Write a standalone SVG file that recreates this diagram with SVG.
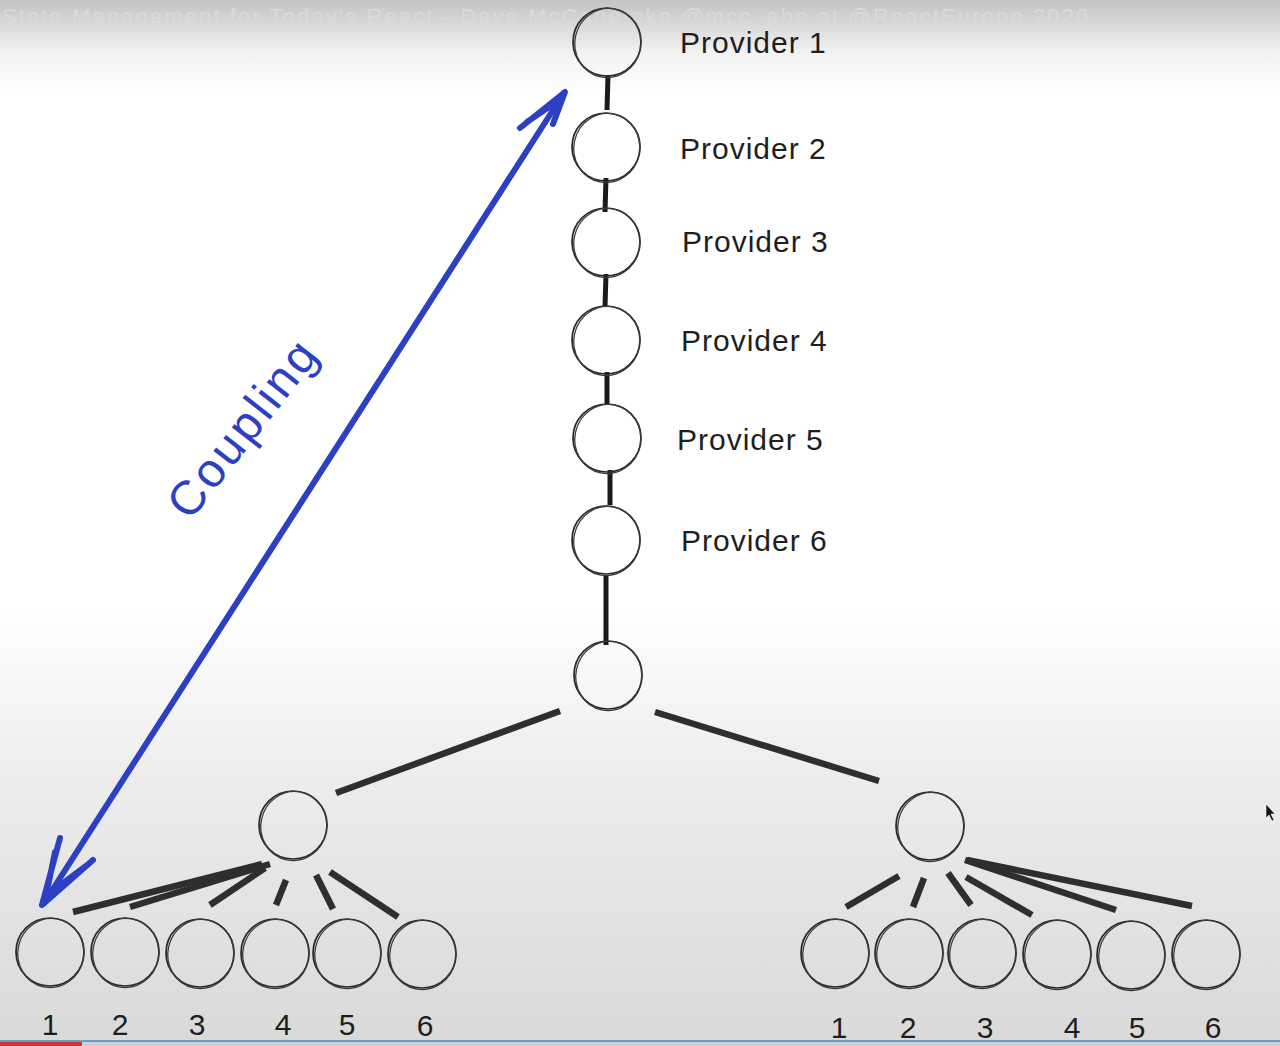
<svg xmlns="http://www.w3.org/2000/svg" xmlns:xlink="http://www.w3.org/1999/xlink" width="1280" height="1046" viewBox="0 0 1280 1046">
<defs>
<linearGradient id="bg" x1="0" y1="0" x2="0" y2="1">
<stop offset="0" stop-color="#c3c3c3"/>
<stop offset="0.05" stop-color="#f2f2f2"/>
<stop offset="0.09" stop-color="#ffffff"/>
<stop offset="0.58" stop-color="#ffffff"/>
<stop offset="0.75" stop-color="#ececec"/>
<stop offset="1" stop-color="#d9d9d9"/>
</linearGradient>
<g id="ring">
<circle r="34" fill="none" stroke="#2a2a2a" stroke-width="1.7"/>
<ellipse cx="1" cy="0.8" rx="33" ry="34.6" transform="rotate(12)" fill="none" stroke="#3a3a3a" stroke-width="1.3"/>
</g>
</defs>
<style>
.lbl{font-family:"Liberation Sans",Arial,sans-serif;font-size:30px;fill:#1e1e1e;letter-spacing:1px}
.num{font-family:"Liberation Sans",Arial,sans-serif;font-size:30px;fill:#1e1e1e;text-anchor:middle}
.wm{font-family:"Liberation Sans",Arial,sans-serif;font-size:22px;fill:#dadada}
.chain{stroke:#1a1a1a;stroke-width:5;fill:none}
.br{stroke:#2e2e2e;stroke-width:6.5;fill:none}
.blue{stroke:#2c40c4;stroke-width:6;fill:none;stroke-linecap:round;stroke-linejoin:round}
.cp{font-family:"Liberation Sans",Arial,sans-serif;font-size:48px;fill:#2c40c4;letter-spacing:3px}
</style>
<rect width="1280" height="1046" fill="url(#bg)"/>
<text class="wm" x="2" y="24" textLength="1086">State Management for Today's React - Dave McCabe aka @mcc_abe at @ReactEurope 2020</text>

<g id="connectors">
<line class="chain" x1="608" y1="75" x2="607" y2="110"/>
<line class="chain" x1="606" y1="178" x2="605" y2="212"/>
<line class="chain" x1="606" y1="274" x2="605" y2="307"/>
<line class="chain" x1="607" y1="372" x2="607" y2="405"/>
<line class="chain" x1="610" y1="470" x2="610" y2="505"/>
<line class="chain" x1="606" y1="575" x2="606" y2="645"/>
<line class="br" x1="560" y1="711" x2="336" y2="793"/>
<line class="br" x1="655" y1="712" x2="879" y2="781"/>
<line class="br" x1="73" y1="912" x2="262" y2="864"/>
<line class="br" x1="130" y1="907" x2="270" y2="864"/>
<line class="br" x1="210" y1="905" x2="265" y2="868"/>
<line class="br" x1="276" y1="905" x2="286" y2="880"/>
<line class="br" x1="316" y1="875" x2="333" y2="909"/>
<line class="br" x1="330" y1="872" x2="398" y2="917"/>
<line class="br" x1="846" y1="907" x2="899" y2="876"/>
<line class="br" x1="913" y1="907" x2="924" y2="878"/>
<line class="br" x1="948" y1="873" x2="971" y2="905"/>
<line class="br" x1="966" y1="877" x2="1032" y2="915"/>
<line class="br" x1="965" y1="860" x2="1116" y2="910"/>
<line class="br" x1="967" y1="860" x2="1192" y2="906"/>
</g>

<g id="coupling">
<line class="blue" x1="44" y1="903" x2="564" y2="93"/>
<path class="blue" d="M520 128 L565 92 L553 124 M527 122 L562 98"/>
<path class="blue" d="M60 838 L42 905 L93 860 M55 852 L46 896 L86 866"/>
<text class="cp" transform="translate(190 522) rotate(-52)">Coupling</text>
</g>

<g id="p1"><use xlink:href="#ring" x="607" y="42"/><text class="lbl" x="680" y="53">Provider 1</text></g>
<g id="p2"><use xlink:href="#ring" x="606" y="147"/><text class="lbl" x="680" y="159">Provider 2</text></g>
<g id="p3"><use xlink:href="#ring" x="606" y="242"/><text class="lbl" x="682" y="252">Provider 3</text></g>
<g id="p4"><use xlink:href="#ring" x="606" y="340"/><text class="lbl" x="681" y="351">Provider 4</text></g>
<g id="p5"><use xlink:href="#ring" x="607" y="438"/><text class="lbl" x="677" y="450">Provider 5</text></g>
<g id="p6"><use xlink:href="#ring" x="606" y="540"/><text class="lbl" x="681" y="551">Provider 6</text></g>
<g id="root"><use xlink:href="#ring" x="608" y="675"/></g>
<g id="leftMid"><use xlink:href="#ring" x="293" y="825"/></g>
<g id="rightMid"><use xlink:href="#ring" x="930" y="826"/></g>

<g id="L1"><use xlink:href="#ring" x="50" y="952"/><text class="num" x="50" y="1035">1</text></g>
<g id="L2"><use xlink:href="#ring" x="125" y="952"/><text class="num" x="120" y="1035">2</text></g>
<g id="L3"><use xlink:href="#ring" x="200" y="953"/><text class="num" x="197" y="1035">3</text></g>
<g id="L4"><use xlink:href="#ring" x="275" y="953"/><text class="num" x="283" y="1035">4</text></g>
<g id="L5"><use xlink:href="#ring" x="347" y="953"/><text class="num" x="347" y="1035">5</text></g>
<g id="L6"><use xlink:href="#ring" x="422" y="954"/><text class="num" x="425" y="1036">6</text></g>

<g id="R1"><use xlink:href="#ring" x="835" y="953"/><text class="num" x="839" y="1038">1</text></g>
<g id="R2"><use xlink:href="#ring" x="909" y="953"/><text class="num" x="908" y="1038">2</text></g>
<g id="R3"><use xlink:href="#ring" x="982" y="953"/><text class="num" x="985" y="1038">3</text></g>
<g id="R4"><use xlink:href="#ring" x="1057" y="954"/><text class="num" x="1072" y="1038">4</text></g>
<g id="R5"><use xlink:href="#ring" x="1131" y="955"/><text class="num" x="1137" y="1038">5</text></g>
<g id="R6"><use xlink:href="#ring" x="1206" y="954"/><text class="num" x="1213" y="1038">6</text></g>

<path d="M1266 804 L1266 818 L1269 815 L1272 821 L1274 820 L1271 814 L1275 814 Z" fill="#111" stroke="#fff" stroke-width="0.6"/>
<rect x="0" y="1040" width="1280" height="2" fill="#6a9cc8"/>
<rect x="0" y="1042" width="1280" height="4" fill="#cfcfcf"/>
<rect x="0" y="1042" width="82" height="4" fill="#cc3333"/>
</svg>
